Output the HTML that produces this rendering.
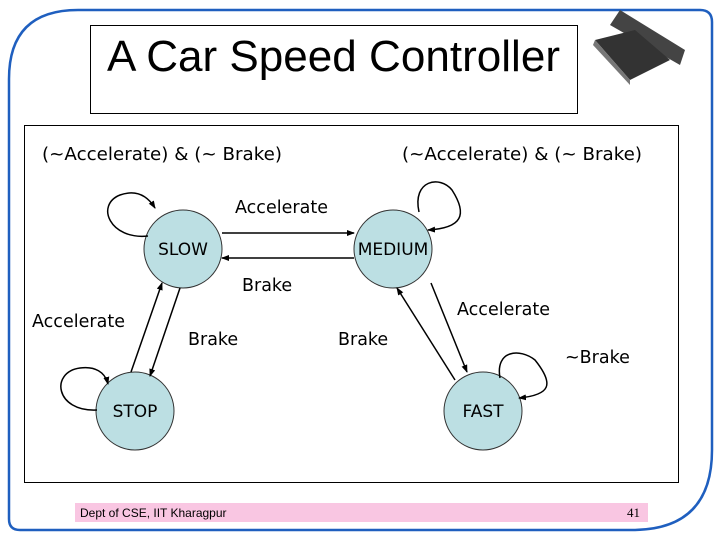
<!DOCTYPE html>
<html><head><style>
html,body{margin:0;padding:0;background:#fff;}
body{width:720px;height:540px;position:relative;overflow:hidden;font-family:"DejaVu Sans",Verdana,sans-serif;}
</style></head><body>
<svg width="720" height="540" xmlns="http://www.w3.org/2000/svg" style="position:absolute;left:0;top:0">
<defs><marker id="a" markerWidth="8" markerHeight="8" refX="7" refY="4" orient="auto" markerUnits="userSpaceOnUse"><path d="M0,1 L8,4 L0,7 z" fill="#000"/></marker></defs>
<path d="M78,10 L700,10 Q712,10 712,22 L712,450 Q712,530 632,530 L20,530 Q9,530 9,519 L9,79 Q9,10 78,10 Z" fill="none" stroke="#1f5fbf" stroke-width="2.5"/>
<rect x="90.5" y="25.5" width="487" height="88" fill="#fff" stroke="#000"/>
<text x="107" y="71" font-family="Liberation Sans, sans-serif" font-size="44" textLength="453" lengthAdjust="spacingAndGlyphs">A Car Speed Controller</text>
<g transform="translate(590,10)">
<polygon points="30,0 95,40 90,55 20,15" fill="#444"/>
<polygon points="5,30 45,20 80,50 40,70" fill="#333"/>
<polygon points="5,30 40,70 40,75 3,35" fill="#777"/>
</g>
<rect x="24.5" y="125.5" width="654" height="357" fill="#fff" stroke="#000"/>
<g font-size="17.5" fill="#000">
<text x="42" y="160" textLength="240" lengthAdjust="spacingAndGlyphs">(~Accelerate) &amp; (~ Brake)</text>
<text x="402" y="160" textLength="240" lengthAdjust="spacingAndGlyphs">(~Accelerate) &amp; (~ Brake)</text>
<text x="235" y="213" textLength="93">Accelerate</text>
<text x="242" y="291">Brake</text>
<text x="32" y="327" textLength="93">Accelerate</text>
<text x="188" y="345">Brake</text>
<text x="338" y="345">Brake</text>
<text x="457" y="315" textLength="93">Accelerate</text>
<text x="565" y="363">~Brake</text>
</g>
<g fill="#bcdfe3" stroke="#333" stroke-width="1">
<circle cx="183" cy="249" r="39"/>
<circle cx="393" cy="249" r="39"/>
<circle cx="135" cy="411" r="39"/>
<circle cx="483" cy="411" r="39"/>
</g>
<g font-size="17" text-anchor="middle">
<text x="183" y="255">SLOW</text>
<text x="393" y="255">MEDIUM</text>
<text x="135" y="417">STOP</text>
<text x="483" y="417">FAST</text>
</g>
<g stroke="#000" stroke-width="1.5" fill="none" marker-end="url(#a)">
<line x1="222" y1="233" x2="354" y2="233"/>
<line x1="354" y1="258" x2="222" y2="258"/>
<line x1="131" y1="372" x2="162" y2="283"/>
<line x1="180" y1="288" x2="150" y2="376"/>
<line x1="431" y1="283" x2="467" y2="372"/>
<line x1="455" y1="380" x2="397" y2="288"/>
<path d="M148,236 C110,240 95,205 120,195 C140,188 150,200 155,208"/>
<path d="M97,410 C55,412 50,372 80,368 C95,366 105,372 108,384"/>
<path d="M419,212 C412,180 440,175 452,190 C468,215 462,228 428,230"/>
<path d="M500,378 C495,350 520,348 535,360 C555,385 550,395 519,398"/>
</g>
<rect x="75" y="503" width="573" height="19" fill="#f9c6e2"/>
<text x="80" y="517" font-family="Liberation Sans, sans-serif" font-size="12">Dept of CSE, IIT Kharagpur</text>
<text x="640" y="517" font-family="Liberation Serif, serif" font-size="13" text-anchor="end">41</text>
</svg>
</body></html>
